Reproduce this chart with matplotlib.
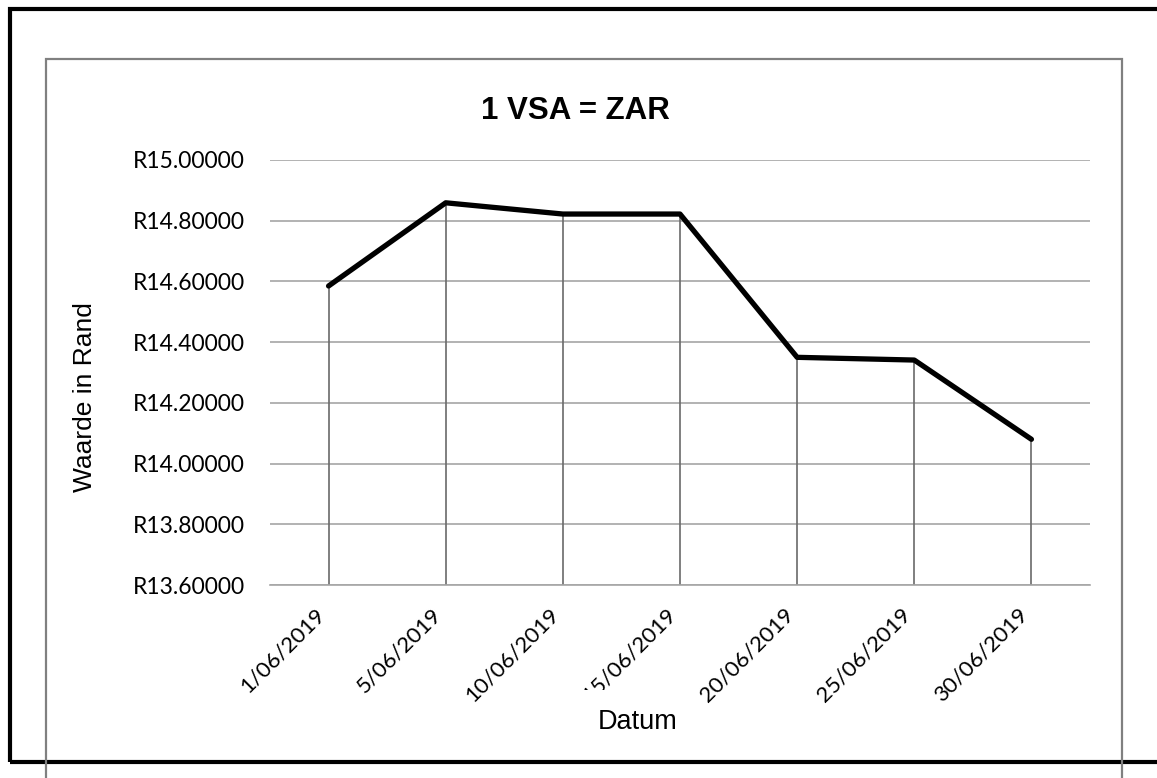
import matplotlib
matplotlib.use("Agg")
import matplotlib.pyplot as plt
from matplotlib.patches import Rectangle
from matplotlib.ticker import FuncFormatter

# data
dates = ["1/06/2019", "5/06/2019", "10/06/2019", "15/06/2019",
         "20/06/2019", "25/06/2019", "30/06/2019"]
rates = [14.585, 14.859, 14.822, 14.822, 14.350, 14.341, 14.080]
y_ticks = [13.6, 13.8, 14.0, 14.2, 14.4, 14.6, 14.8, 15.0]

title = "1 VSA = ZAR"
x_label = "Datum"
y_label = "Waarde in Rand"

W, H = 1157, 778
fig = plt.figure(figsize=(W / 100, H / 100), dpi=100)

# outer black frame and inner grey chart-area frame
fig.patches.append(Rectangle((10 / W, 1 - 762 / H), 1.2, 753 / H,
                             transform=fig.transFigure, fill=False,
                             edgecolor="black", linewidth=3.0))
fig.patches.append(Rectangle((46 / W, -0.1), 1076 / W, 0.1 + 1 - 59 / H,
                             transform=fig.transFigure, fill=False,
                             edgecolor="#808080", linewidth=1.6))

ax = fig.add_axes([270 / W, 1 - 585 / H, 820 / W, 425 / H])
x = list(range(len(dates)))

ax.set_ylim(13.6, 15.0)
ax.set_xlim(-0.5, len(dates) - 0.5)
ax.set_yticks(y_ticks)
ax.yaxis.set_major_formatter(FuncFormatter(lambda v, _: f"R{v:.5f}"))
ax.grid(axis="y", color="#a6a6a6", linewidth=1.2)
ax.set_axisbelow(True)

# drop lines from each point down to the axis
ax.vlines(x, 13.6, rates, color="#6a6a6a", linewidth=1.2, zorder=2)
ax.plot(x, rates, color="black", linewidth=3.8,
        solid_joinstyle="round", solid_capstyle="round", zorder=3)

for side in ["top", "right", "left"]:
    ax.spines[side].set_visible(False)
ax.spines["bottom"].set_color("#a6a6a6")
ax.spines["bottom"].set_linewidth(1.2)

ax.set_xticks(x)
ax.set_xticklabels(dates, rotation=45, ha="right", family="Lato", fontsize=16)
for lbl in ax.get_yticklabels():
    lbl.set_family("Lato")
    lbl.set_fontsize(16.5)
ax.tick_params(axis="y", length=0, pad=18, colors="black")
ax.tick_params(axis="x", length=0, pad=14, colors="black")

fig.text(575 / W, 1 - 111 / H, title, ha="center", va="center",
         family="Liberation Sans", fontweight="bold", fontsize=22.5)
fig.text(85 / W, 1 - 397 / H, y_label, ha="center", va="center",
         rotation=90, family="Liberation Sans", fontsize=19)
# axis title box sits over the lower ends of two date labels
fig.text(638 / W, 1 - 722 / H, x_label, ha="center", va="center",
         family="Liberation Sans", fontsize=19.5,
         bbox=dict(facecolor="white", edgecolor="none",
                   boxstyle="square,pad=0.7"))

fig.savefig("out.png", dpi=100)
